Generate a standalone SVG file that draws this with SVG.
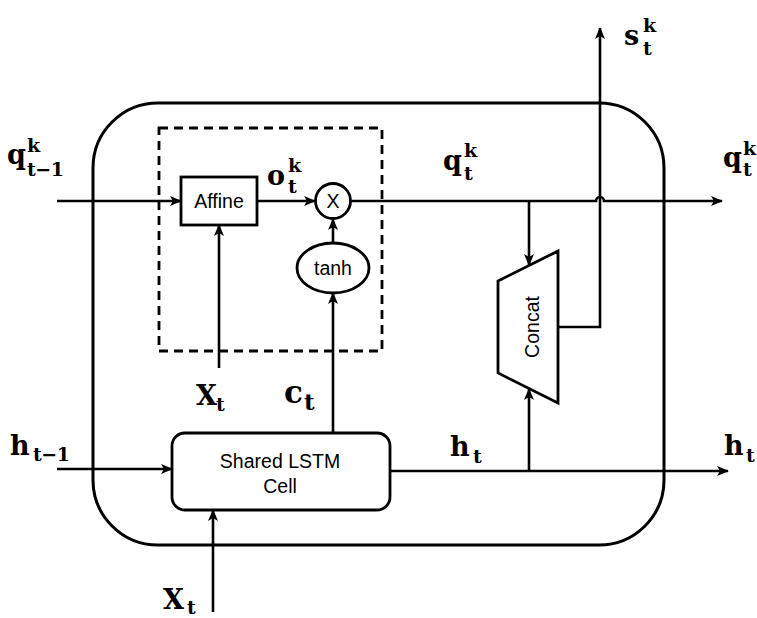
<svg xmlns="http://www.w3.org/2000/svg" width="757" height="618" viewBox="0 0 757 618">
<defs>
<marker id="arr" viewBox="0 0 12 10" refX="11" refY="5" markerWidth="12" markerHeight="10" markerUnits="userSpaceOnUse" orient="auto">
<path d="M0,0 L12,5 L0,10 L3,5 z" fill="#000"/>
</marker>
<style>
.ln{fill:none;stroke:#000;stroke-width:2.6}
.box{fill:#fff;stroke:#000;stroke-width:2.8}
.lbl{font-family:"Liberation Sans",Arial,sans-serif;font-size:19.5px;fill:#000}
.m{font-family:"DejaVu Serif","Liberation Serif",serif;font-weight:bold;fill:#000}
.mb{font-size:27px}
.ms{font-size:19px}
</style>
</defs>
<rect width="757" height="618" fill="#fff"/>
<rect id="outer" x="93" y="103" width="571" height="442" rx="65" ry="65" fill="none" stroke="#000" stroke-width="3"/>
<rect id="dashed" x="159" y="128" width="223" height="223" fill="none" stroke="#000" stroke-width="2.8" stroke-dasharray="9,6"/>
<g id="connectors">
<path class="ln" d="M57,201 H181" marker-end="url(#arr)"/>
<path class="ln" d="M257,201 H315" marker-end="url(#arr)"/>
<path class="ln" d="M351,201 H596 A4,4 0 0 1 604,201 H722" marker-end="url(#arr)"/>
<path class="ln" d="M529,201 V265" marker-end="url(#arr)"/>
<path class="ln" d="M333,243 V219" marker-end="url(#arr)"/>
<path class="ln" d="M333,433 V293" marker-end="url(#arr)"/>
<path class="ln" d="M219,368 V225" marker-end="url(#arr)"/>
<path class="ln" d="M57,469 H172" marker-end="url(#arr)"/>
<path class="ln" d="M213,612 V510" marker-end="url(#arr)"/>
<path class="ln" d="M390,471 H728" marker-end="url(#arr)"/>
<path class="ln" d="M529,471 V389" marker-end="url(#arr)"/>
<path class="ln" d="M558,327 H600 V28" marker-end="url(#arr)"/>
</g>
<g id="affine">
<rect class="box" x="181" y="177" width="76" height="48"/>
<text class="lbl" x="219" y="208" text-anchor="middle">Affine</text>
</g>
<g id="mult">
<circle class="box" cx="333" cy="201" r="17.5"/>
<text class="lbl" x="333" y="208" text-anchor="middle">X</text>
</g>
<g id="tanh">
<ellipse class="box" cx="333" cy="268" rx="36" ry="25"/>
<text class="lbl" x="333" y="275" text-anchor="middle">tanh</text>
</g>
<g id="lstm">
<rect class="box" x="172" y="433" width="218" height="77" rx="13" ry="13"/>
<text class="lbl" x="280" y="468" text-anchor="middle">Shared LSTM</text>
<text class="lbl" x="280" y="493" text-anchor="middle">Cell</text>
</g>
<g id="concat">
<path class="box" d="M498,281 L558,251 L558,403 L498,373 Z"/>
<text class="lbl" transform="translate(539,327) rotate(-90)" text-anchor="middle">Concat</text>
</g>
<g id="labels">
<text class="m mb" x="7" y="164">q</text>
<text class="m ms" x="27" y="152">k</text>
<text class="m ms" x="27" y="176" textLength="37" lengthAdjust="spacing">t−1</text>

<text class="m mb" x="443" y="170">q</text>
<text class="m ms" x="464" y="157">k</text>
<text class="m ms" x="464" y="180">t</text>

<text class="m mb" x="723" y="167">q</text>
<text class="m ms" x="743" y="155">k</text>
<text class="m ms" x="743" y="176">t</text>

<text class="m mb" x="624" y="45">s</text>
<text class="m ms" x="643" y="32">k</text>
<text class="m ms" x="643" y="55">t</text>

<text class="m mb" x="267" y="185">o</text>
<text class="m ms" x="288" y="172">k</text>
<text class="m ms" x="288" y="193">t</text>

<text class="m" style="font-size:27px" x="196" y="405">X</text>
<text class="m ms" x="216" y="411">t</text>

<text class="m" style="font-size:31px" x="284" y="403">c</text>
<text class="m" style="font-size:23px" x="304" y="410">t</text>

<text class="m" style="font-size:27px" x="10" y="455">h</text>
<text class="m ms" x="33" y="461" textLength="37" lengthAdjust="spacing">t−1</text>

<text class="m" style="font-size:27px" x="450" y="456">h</text>
<text class="m ms" x="473" y="463">t</text>

<text class="m" style="font-size:27px" x="724" y="455">h</text>
<text class="m ms" x="746" y="462">t</text>

<text class="m" style="font-size:27px" x="163" y="609">X</text>
<text class="m ms" x="187" y="614">t</text>
</g>
</svg>
